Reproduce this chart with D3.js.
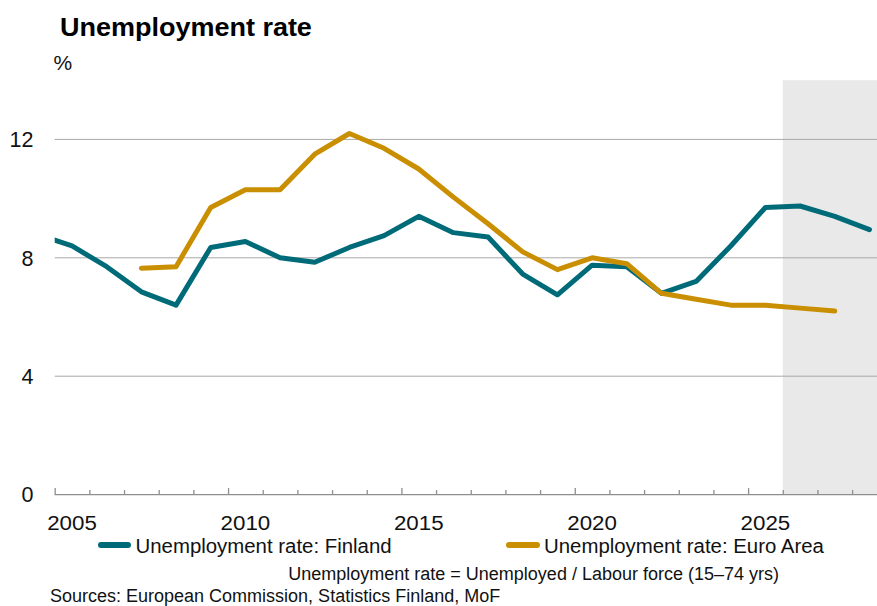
<!DOCTYPE html>
<html>
<head>
<meta charset="utf-8">
<script src="https://cdn.jsdelivr.net/npm/d3@7"></script>
<style>
  html, body { margin: 0; padding: 0; background: #fff; }
  svg { display: block; font-family: "Liberation Sans", Arial, Helvetica, sans-serif; }
</style>
</head>
<body>
<svg id="chart" width="877" height="606"></svg>
<script>
// Unemployment rate, annual, %
const finlandYears = [2004, 2005, 2006, 2007, 2008, 2009, 2010, 2011, 2012, 2013, 2014, 2015, 2016,
                      2017, 2018, 2019, 2020, 2021, 2022, 2023, 2024, 2025, 2026, 2027, 2028];
const finlandRate  = [8.8, 8.4, 7.7, 6.85, 6.4, 8.35, 8.55, 8.0, 7.85, 8.35, 8.75, 9.4, 8.85,
                      8.7, 7.45, 6.75, 7.75, 7.7, 6.8, 7.2, 8.4, 9.7, 9.75, 9.4, 8.95];

const euroYears = [2007, 2008, 2009, 2010, 2011, 2012, 2013, 2014, 2015, 2016, 2017,
                   2018, 2019, 2020, 2021, 2022, 2023, 2024, 2025, 2026, 2027];
const euroRate  = [7.65, 7.7, 9.7, 10.3, 10.3, 11.5, 12.2, 11.7, 11.0, 10.05, 9.15,
                   8.2, 7.6, 8.0, 7.8, 6.8, 6.6, 6.4, 6.4, 6.3, 6.2];

const yTicks = [0, 4, 8, 12];
const xLabelYears = [2005, 2010, 2015, 2020, 2025];
const forecastStart = 2026;

const seriesNames = ["Unemployment rate: Finland", "Unemployment rate: Euro Area"];
const seriesColors = ["#006b78", "#c98f00"];

const titleText = "Unemployment rate";
const unitText = "%";
const noteText = "Unemployment rate = Unemployed / Labour force (15\u201374 yrs)";
const sourceText = "Sources: European Commission, Statistics Finland, MoF";

// ---- layout ----
const W = 877, H = 606;
const plotLeft = 54.7, yearStep = 34.67;
const plotTop = 80.2, plotBottom = 494.6;

const svg = d3.select("#chart");

const x = d3.scaleLinear()
  .domain([2004.5, 2028.5])
  .range([plotLeft, plotLeft + 24 * yearStep]);
const y = d3.scaleLinear().domain([0, 14]).range([plotBottom, plotTop]);

svg.append("defs").append("clipPath").attr("id", "plotClip")
  .append("rect")
  .attr("x", plotLeft).attr("y", plotTop - 10)
  .attr("width", W - plotLeft).attr("height", plotBottom - plotTop + 20);

// forecast band
svg.append("rect")
  .attr("x", x(forecastStart - 0.5))
  .attr("y", y(14))
  .attr("width", W - x(forecastStart - 0.5))
  .attr("height", y(0) - y(14))
  .attr("fill", "#e9e9e9");

// horizontal gridlines
svg.append("g").selectAll("line")
  .data(yTicks.filter(d => d > 0))
  .join("line")
  .attr("x1", plotLeft).attr("x2", W)
  .attr("y1", d => y(d)).attr("y2", d => y(d))
  .attr("stroke", "#a8a8a8").attr("stroke-width", 1);

// y tick labels
svg.append("g").selectAll("text")
  .data(yTicks)
  .join("text")
  .attr("x", 33.5)
  .attr("y", d => y(d))
  .attr("dy", "0.36em")
  .attr("text-anchor", "end")
  .attr("font-size", 21.5)
  .attr("fill", "#111")
  .text(d => d);

// x axis: boundaries between years as ticks, longer every fifth
const boundaries = d3.range(2004.5, 2028.5, 1);
const xAxis = d3.axisBottom(x)
  .tickValues(boundaries)
  .tickSize(0)
  .tickFormat("");
const axisG = svg.append("g")
  .attr("transform", `translate(0,${plotBottom})`)
  .call(xAxis);
axisG.select(".domain").remove();
axisG.selectAll(".tick line").remove();
axisG.append("line")
  .attr("x1", plotLeft).attr("x2", W)
  .attr("y1", 0).attr("y2", 0)
  .attr("stroke", "#8e8e8e").attr("stroke-width", 1.3);
axisG.selectAll(".tick").append("line")
  .attr("y1", 0)
  .attr("y2", d => (Math.round(d - 0.5) % 5 === 4 ? -6.5 : -4.5))
  .attr("stroke", "#8e8e8e").attr("stroke-width", 1.3);

// x labels centred on each year
svg.append("g").selectAll("text")
  .data(xLabelYears)
  .join("text")
  .attr("transform", d => `translate(${x(d)},530) scale(1.09,1)`)
  .attr("text-anchor", "middle")
  .attr("font-size", 20.5)
  .attr("fill", "#111")
  .text(d => d);

// lines
const line = d3.line()
  .x(d => x(d[0]))
  .y(d => y(d[1]));

const lineG = svg.append("g").attr("clip-path", "url(#plotClip)");
const seriesData = [
  d3.zip(finlandYears, finlandRate),
  d3.zip(euroYears, euroRate)
];
lineG.selectAll("path")
  .data(seriesData)
  .join("path")
  .attr("d", line)
  .attr("fill", "none")
  .attr("stroke", (d, i) => seriesColors[i])
  .attr("stroke-width", 5)
  .attr("stroke-linejoin", "round")
  .attr("stroke-linecap", "round");

// title and unit
svg.append("text")
  .attr("transform", "translate(60,35.5) scale(1.08,1)")
  .attr("font-size", 25)
  .attr("font-weight", "bold")
  .attr("fill", "#000")
  .text(titleText);

svg.append("text")
  .attr("x", 53.5).attr("y", 70)
  .attr("font-size", 21)
  .attr("fill", "#111")
  .text(unitText);

// legend
const legendItems = [
  { x0: 101, x1: 128, tx: 135.5 },
  { x0: 509, x1: 537, tx: 544 }
];
const legendG = svg.append("g");
legendItems.forEach((it, i) => {
  legendG.append("line")
    .attr("x1", it.x0).attr("x2", it.x1)
    .attr("y1", 545).attr("y2", 545)
    .attr("stroke", seriesColors[i])
    .attr("stroke-width", 6)
    .attr("stroke-linecap", "round");
  legendG.append("text")
    .attr("transform", `translate(${it.tx},552.5) scale(1.02,1)`)
    .attr("font-size", 20)
    .attr("fill", "#111")
    .text(seriesNames[i]);
});

// footnotes
svg.append("text")
  .attr("x", 779).attr("y", 579.5)
  .attr("text-anchor", "end")
  .attr("font-size", 18)
  .attr("fill", "#111")
  .text(noteText);

svg.append("text")
  .attr("x", 50).attr("y", 601.5)
  .attr("font-size", 18)
  .attr("fill", "#111")
  .text(sourceText);
</script>
</body>
</html>
